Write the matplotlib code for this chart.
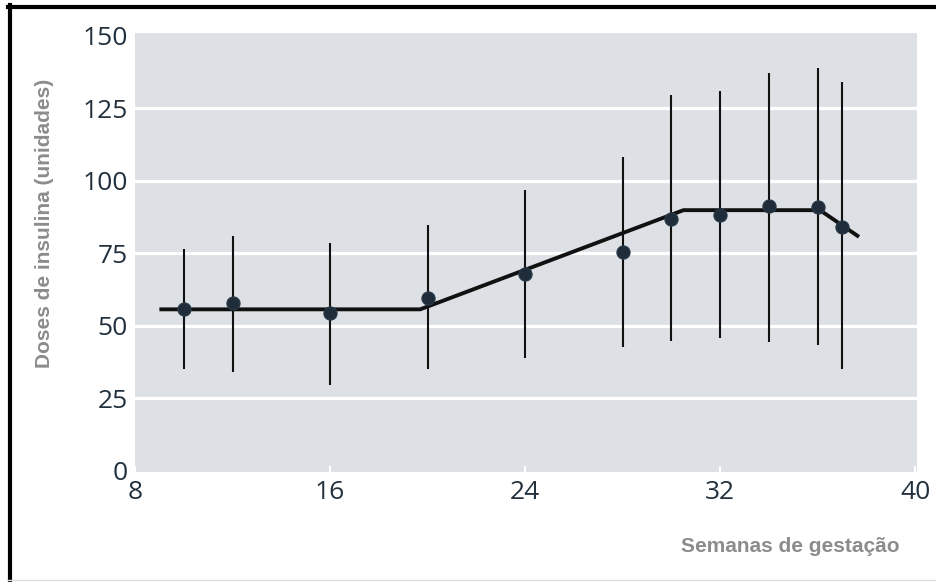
import matplotlib
matplotlib.use("Agg")
import matplotlib.pyplot as plt
from matplotlib.lines import Line2D

# Data
weeks = [10, 12, 16, 20, 24, 28, 30, 32, 34, 36, 37]
dose_mean = [55.7, 57.9, 54.4, 59.6, 67.7, 75.5, 86.6, 88.1, 91.2, 91.0, 84.1]
dose_low = [34.9, 34.1, 29.5, 34.9, 38.7, 42.5, 44.8, 45.6, 44.4, 43.3, 34.9]
dose_high = [76.4, 80.9, 78.6, 84.7, 96.7, 108.0, 129.5, 131.0, 137.2, 138.7, 134.0]

trend_x = [9.0, 19.7, 30.5, 36.1, 37.7]
trend_y = [55.6, 55.6, 89.8, 89.8, 80.6]

x_ticks = [8, 16, 24, 32, 40]
y_ticks = [0, 25, 50, 75, 100, 125, 150]
grid_y = [25, 50, 75, 100, 125]

xlabel = "Semanas de gestação"
ylabel = "Doses de insulina (unidades)"

W, H = 936, 582
fig = plt.figure(figsize=(W / 100, H / 100), dpi=100)
fig.patch.set_facecolor("white")

ax = fig.add_axes([135 / W, 1 - 472 / H, 782 / W, 439 / H])
ax.set_facecolor("#dde1e5")
ax.set_xlim(8, 40.08)
ax.set_ylim(-0.5, 150.9)

for g in grid_y:
    ax.axhline(g, color="white", lw=2.3, zorder=1)

lower_err = [m - l for m, l in zip(dose_mean, dose_low)]
upper_err = [h - m for m, h in zip(dose_mean, dose_high)]
ax.errorbar(weeks, dose_mean, yerr=[lower_err, upper_err], fmt="none",
            ecolor="#111111", elinewidth=1.5, capsize=0, zorder=3)
ax.plot(trend_x, trend_y, color="#111111", lw=2.8, solid_capstyle="butt",
        solid_joinstyle="miter", zorder=4)
ax.plot(weeks, dose_mean, "o", color="#1f2d3a", markersize=9.5,
        markeredgecolor="#2a3a48", markeredgewidth=0.8, zorder=5)

for s in ax.spines.values():
    s.set_visible(False)

tick_font = dict(family="Open Sans", size=19, color="#22313d")
ax.set_xticks(x_ticks)
ax.set_xticklabels([str(t) for t in x_ticks], fontdict=tick_font)
ax.set_yticks(y_ticks)
ax.set_yticklabels([str(t) for t in y_ticks], fontdict=tick_font)
ax.tick_params(axis="x", direction="in", length=4, width=1.5, color="white", pad=6)
ax.tick_params(axis="y", length=0, pad=5)

fig.text(900 / W, 1 - 547 / H, xlabel, ha="right", va="center",
         family="Liberation Sans", weight="bold", size=15, color="#8c8c8c")
fig.text(45 / W, 1 - 223 / H, ylabel, ha="center", va="center", rotation=90,
         family="Liberation Sans", weight="bold", size=15, color="#8c8c8c")

# Frame lines (top and left) and faint bottom line
fig.add_artist(Line2D([8 / W, 1.0], [1 - 6.5 / H, 1 - 6.5 / H],
                      transform=fig.transFigure, color="black", lw=3))
fig.add_artist(Line2D([9.5 / W, 9.5 / W], [0, 1 - 5 / H],
                      transform=fig.transFigure, color="black", lw=3))
fig.add_artist(Line2D([8 / W, 1.0], [1 - 580 / H, 1 - 580 / H],
                      transform=fig.transFigure, color="#dddddd", lw=1))

fig.savefig("out.png", dpi=100)
